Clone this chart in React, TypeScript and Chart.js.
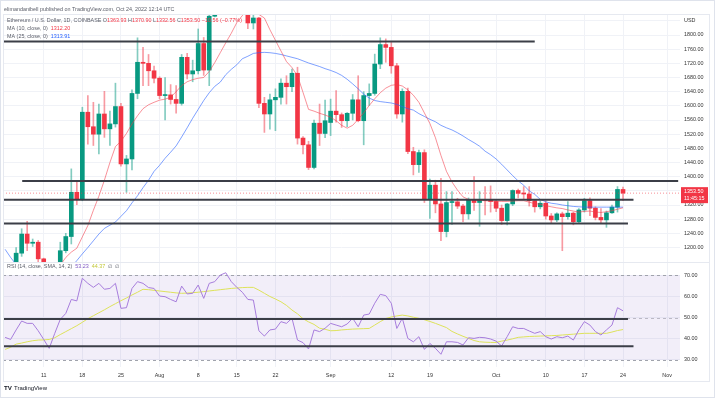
import React, { useEffect, useRef } from 'react';
import { Chart, registerables } from 'chart.js';

Chart.register(...registerables);

// Day index 0 = 11 Jul 2022; first candle = 4 Jul 2022 (day -7)
const FIRST_DAY = -7;

const OPEN = [
  1075, 1150, 1134, 1184, 1238, 1212, 1215, 1168, 1097, 1038,
  1112, 1191, 1231, 1356, 1337, 1582, 1541, 1520, 1577, 1535,
  1549, 1598, 1436, 1450, 1635, 1723, 1720, 1699, 1678, 1629,
  1631, 1618, 1607, 1737, 1690, 1699, 1776, 1701, 1853, 1880,
  1958, 1983, 1935, 1904, 1877, 1834, 1848, 1607, 1577, 1617,
  1624, 1664, 1654, 1692, 1509, 1490, 1426, 1551, 1522, 1553,
  1585, 1575, 1558, 1579, 1617, 1558, 1629, 1635, 1718, 1773,
  1765, 1713, 1577, 1641, 1471, 1434, 1468, 1336, 1376, 1323,
  1245, 1327, 1329, 1317, 1295, 1336, 1327, 1334, 1336, 1330,
  1311, 1276, 1323, 1361, 1353, 1351, 1332, 1315, 1325, 1289,
  1278, 1295, 1287, 1297, 1273, 1306, 1332, 1311, 1285, 1278,
  1298, 1314, 1363.93,
];
const HIGH = [
  1155, 1157, 1200, 1253, 1274, 1224, 1220, 1170, 1100, 1113,
  1215, 1240, 1422, 1384, 1596, 1629, 1610, 1605, 1641, 1585,
  1664, 1607, 1460, 1645, 1792, 1765, 1745, 1712, 1682, 1680,
  1660, 1657, 1745, 1748, 1729, 1817, 1793, 1870, 1942, 1960,
  2020, 2030, 2010, 1940, 1960, 1875, 1850, 1624, 1633, 1648,
  1676, 1685, 1704, 1709, 1513, 1500, 1560, 1605, 1616, 1619,
  1643, 1580, 1581, 1632, 1685, 1640, 1662, 1746, 1792, 1789,
  1779, 1720, 1648, 1650, 1483, 1475, 1476, 1393, 1390, 1395,
  1358, 1358, 1339, 1322, 1340, 1400, 1358, 1372, 1374, 1335,
  1320, 1325, 1363, 1365, 1372, 1372, 1335, 1331, 1331, 1296,
  1298, 1300, 1330, 1300, 1310, 1339, 1340, 1315, 1310, 1303,
  1320, 1372, 1370.9,
];
const LOW = [
  1070, 1100, 1102, 1175, 1191, 1203, 1160, 1090, 1035, 1006,
  1080, 1185, 1210, 1321, 1332, 1492, 1488, 1464, 1511, 1488,
  1540, 1430, 1356, 1419, 1620, 1657, 1657, 1665, 1620, 1560,
  1605, 1579, 1602, 1676, 1668, 1690, 1686, 1657, 1851, 1861,
  1945, 1920, 1870, 1861, 1818, 1817, 1595, 1525, 1534, 1530,
  1605, 1605, 1640, 1492, 1464, 1420, 1422, 1488, 1510, 1516,
  1554, 1539, 1541, 1560, 1555, 1490, 1601, 1630, 1705, 1723,
  1692, 1565, 1554, 1465, 1405, 1412, 1327, 1282, 1298, 1219,
  1230, 1265, 1310, 1273, 1280, 1305, 1260, 1292, 1300, 1301,
  1265, 1264, 1318, 1340, 1336, 1317, 1300, 1309, 1280, 1270,
  1273, 1191, 1280, 1264, 1270, 1300, 1290, 1278, 1270, 1257,
  1296, 1300, 1332.56,
];
const CLOSE = [
  1150, 1134, 1184, 1238, 1212, 1215, 1168, 1097, 1038, 1112,
  1191, 1231, 1356, 1337, 1582, 1541, 1520, 1577, 1535, 1549,
  1598, 1436, 1450, 1635, 1723, 1720, 1699, 1678, 1629, 1631,
  1618, 1607, 1737, 1690, 1699, 1776, 1701, 1853, 1880, 1958,
  1983, 1935, 1904, 1877, 1834, 1848, 1607, 1577, 1617, 1624,
  1664, 1654, 1692, 1509, 1490, 1426, 1551, 1522, 1558, 1585,
  1575, 1558, 1579, 1617, 1558, 1629, 1635, 1718, 1773, 1765,
  1713, 1577, 1641, 1471, 1434, 1468, 1336, 1376, 1323, 1245,
  1327, 1329, 1317, 1295, 1336, 1327, 1334, 1333, 1330, 1311,
  1276, 1323, 1361, 1353, 1351, 1332, 1315, 1325, 1289, 1278,
  1295, 1287, 1297, 1273, 1306, 1332, 1311, 1285, 1278, 1298,
  1314, 1364, 1353.5,
];

const MA10_FIRST_DAY = 2;
const MA10 = [
  1135, 1150, 1172, 1187, 1198, 1230, 1262, 1305, 1345, 1390,
  1440, 1485, 1500, 1522, 1549, 1572, 1592, 1603, 1610, 1616,
  1619, 1624, 1640, 1657, 1668, 1674, 1678, 1680, 1697, 1722,
  1750, 1778, 1805, 1835, 1855, 1870, 1868, 1858, 1848, 1815,
  1785, 1755, 1725, 1708, 1685, 1638, 1590, 1585, 1579, 1574,
  1568, 1558, 1545, 1537, 1545, 1562, 1580, 1601, 1620, 1637,
  1650, 1658, 1660, 1656, 1645, 1630, 1610, 1580, 1550, 1510,
  1460, 1415, 1385, 1362, 1343, 1336, 1334, 1333, 1332, 1331,
  1331, 1330, 1330, 1331, 1332, 1332, 1328, 1324, 1322, 1318,
  1315, 1312, 1310, 1306, 1303, 1300, 1302, 1303, 1300, 1299,
  1301, 1304, 1308, 1312.2,
];
const MA25 = [
  1195, 1172, 1152, 1140, 1132, 1126, 1120, 1117, 1115, 1116,
  1120, 1128, 1145, 1163, 1182, 1200, 1219, 1238, 1254, 1263,
  1272, 1288, 1304, 1326, 1346, 1369, 1390, 1415, 1432, 1452,
  1469, 1487, 1512, 1538, 1565, 1590, 1615, 1637, 1655, 1667,
  1688, 1703, 1716, 1733, 1740, 1748, 1750, 1751, 1750, 1748,
  1745, 1741, 1737, 1733, 1727, 1721, 1716, 1711, 1705, 1700,
  1694, 1686, 1675, 1662, 1648, 1633, 1622, 1615, 1612, 1610,
  1608, 1604, 1598, 1592, 1588, 1578, 1570, 1562, 1555, 1545,
  1538, 1532, 1524, 1515, 1505, 1496, 1486, 1472, 1462, 1450,
  1435, 1419, 1403, 1388, 1376, 1360, 1350, 1336, 1329, 1325,
  1323, 1320, 1318, 1316, 1315, 1314, 1314, 1314, 1314, 1314,
  1314, 1314, 1313.91,
];

const RSI = [
  40.7, 39.7, 44.2, 48.4, 47.3, 47.3, 43.8, 39.7, 35.5, 42.6,
  49.2, 52, 58.6, 57.9, 68.6, 66.2, 64.3, 66.2, 63.4, 63.8,
  66.2, 54.4, 54.7, 63.8, 67, 66.2, 64.2, 63.8, 60.2, 59.9,
  58.6, 57.5, 64.9, 61.2, 61.5, 65.4, 59.1, 66.2, 67, 70.1,
  71.2, 67, 64.3, 62, 58.6, 58.3, 43.8, 41.3, 44.2, 44.6,
  48.1, 47.3, 49.7, 39.4, 38.2, 35.2, 44.2, 43.4, 45, 47.3,
  46.5, 45.7, 47, 49.7, 45.7, 51.2, 51.7, 56.8, 61, 60.4,
  56.8, 44.9, 49.7, 40.2, 38.6, 41, 35, 37.8, 35.5, 32.7,
  38.6, 38.6, 38.3, 37.1, 40.5, 40.2, 40.7, 40.5, 39.9, 38.9,
  36.6, 41, 45.7, 44.9, 44.9, 43.7, 42.6, 43.4, 41, 39.9,
  41, 40.5, 41.3, 39.4, 44.2, 48.1, 46.5, 43.4, 41.8, 44.2,
  46.5, 54.7, 53.23,
];
const RSI_SMA = [
  35, 36, 37.5, 38, 38.6, 39.1, 39.4, 39.5, 39.7, 40.5,
  42, 43.4, 44.8, 46.2, 47.8, 49.5, 50.9, 52.3, 53.7, 55.2,
  56.6, 58, 59.3, 60.7, 62, 63.4, 63.2, 62.9, 62.6, 62.3,
  62, 61.7, 61.5, 61.6, 61.8, 62, 62.3, 62.6, 62.9, 63.2,
  63.5, 63.8, 64, 64.2, 64.3, 64.3, 63, 61.5, 60, 58.8,
  57.5, 55.8, 53.6, 51.8, 49.5, 48, 46.8, 45, 44.5, 43.8,
  43.9, 44.2, 44.4, 44.6, 44.7, 44.8, 44.9, 46.5, 48.1, 49.6,
  50.3, 50.8, 51.2, 50.8, 50.2, 49.7, 49, 48.2, 47.3, 46.3,
  45.3, 43.5, 42.3, 41.2, 40.2, 39.2, 38.6, 38.4, 38.3, 38.3,
  38.9, 39.4, 40, 40.7, 40.9, 41.1, 41.2, 41.3, 41.4, 41.5,
  41.6, 41.8, 42, 42.2, 42.4, 42.6, 42.6, 42.6, 42.6, 42.6,
  43.2, 43.9, 44.37,
];

// Hand-drawn horizontal levels
const PRICE_LEVELS = [1782, 1388, 1335, 1268];
const PRICE_LEVEL_FROM = [-7.4, -3.9, -7.4, -7.4];
const PRICE_LEVEL_TO = [89, 115, 106.9, 105.9];
const RSI_LEVELS = [49.4, 36.5];
const RSI_LEVEL_FROM = [-7.4, -7.4];
const RSI_LEVEL_TO = [105.9, 106.9];

const X_TICK_DAYS = [0, 7, 14, 21, 28, 35, 42, 52, 63, 70, 82, 91, 98, 105, 113];
const X_TICK_LABELS = ['11', '18', '25', 'Aug', '8', '15', '22', 'Sep', '12', '19', 'Oct', '10', '17', '24', 'Nov'];
const PRICE_TICKS = [1200, 1240, 1280, 1320, 1360, 1400, 1440, 1480, 1520, 1560, 1600, 1640, 1680, 1720, 1760, 1800, 1840];
const RSI_TICKS = [30, 40, 50, 60, 70];
const RSI_BAND = [30, 70];

const X_MIN = -7.38;
const X_MAX = 115.33;
const P_MIN = 1159.1;
const P_MAX = 1859.3;
const R_MIN = 26.69;
const R_MAX = 75.81;

const LAST_PRICE = CLOSE[CLOSE.length - 1];
const UP = '#089981';
const DOWN = '#f23645';
const GRID = '#f0f2f7';
const FONT = '"Liberation Sans", Arial, sans-serif';
const TXT = '#5a5d68';
const FS = 5.4;

type Run = [string, string];
function drawRuns(ctx: CanvasRenderingContext2D, x: number, y: number, runs: Run[], size: number, weight = '') {
  ctx.save();
  ctx.font = `${weight} ${size}px ${FONT}`;
  ctx.textBaseline = 'middle';
  ctx.textAlign = 'left';
  let cx = x;
  for (const [t, c] of runs) {
    ctx.fillStyle = c;
    ctx.fillText(t, cx, y);
    cx += ctx.measureText(t).width;
  }
  ctx.restore();
}

const days = OPEN.map((_, i) => FIRST_DAY + i);

function xScaleBase(showLabels: boolean) {
  return {
    type: 'linear' as const,
    min: X_MIN,
    max: X_MAX,
    offset: false,
    grid: { color: GRID, drawTicks: false, offset: false },
    border: { display: false },
    ticks: {
      display: showLabels,
      autoSkip: false,
      maxRotation: 0,
      padding: 5,
      color: '#333',
      font: { size: FS, family: FONT },
      callback: (_v: any, i: number) => X_TICK_LABELS[i],
    },
    afterBuildTicks: (s: any) => {
      s.ticks = X_TICK_DAYS.map((v) => ({ value: v }));
    },
    afterFit: (s: any) => {
      s.height = showLabels ? 14 : 0;
      s.paddingLeft = 0;
      s.paddingRight = 0;
    },
  };
}

export default function App() {
  const priceRef = useRef<HTMLCanvasElement>(null);
  const rsiRef = useRef<HTMLCanvasElement>(null);

  useEffect(() => {
    document.body.style.margin = '0';

    const bodyColors = days.map((_, i) => (CLOSE[i] >= OPEN[i] ? UP : DOWN));
    const wickColors = days.map((_, i) => (CLOSE[i] >= OPEN[i] ? 'rgba(8,153,129,0.5)' : 'rgba(242,54,69,0.5)'));

    const levelSets = PRICE_LEVELS.map((lv, i) => ({
      type: 'line' as const,
      data: [{ x: PRICE_LEVEL_FROM[i], y: lv }, { x: PRICE_LEVEL_TO[i], y: lv }],
      borderColor: '#3b3e47',
      borderWidth: 2,
      pointRadius: 0,
      order: 0,
    }));

    const pricePlugin = {
      id: 'priceDeco',
      afterDraw(chart: any) {
        const { ctx, chartArea: a, scales } = chart;
        drawRuns(ctx, 4, 9.3, [['elimandanibell published on TradingView.com, Oct 24, 2022 12:14 UTC', '#5d606b']], FS);
        const last = OPEN.length - 1;
        drawRuns(ctx, 7, 20.7, [
          ['Ethereum / U.S. Dollar, 1D, COINBASE ', TXT],
          ['O', TXT], [OPEN[last].toFixed(2), DOWN],
          [' H', TXT], [HIGH[last].toFixed(2), DOWN],
          [' L', TXT], [LOW[last].toFixed(2), DOWN],
          [' C', TXT], [CLOSE[last].toFixed(2), DOWN],
          [' \u221210.56 (\u22120.77%)', DOWN],
        ], FS);
        drawRuns(ctx, 7, 28.5, [['MA (10, close, 0)  ', TXT], [MA10[MA10.length - 1].toFixed(2), DOWN]], FS);
        drawRuns(ctx, 7, 36.2, [['MA (25, close, 0)  ', TXT], [MA25[MA25.length - 1].toFixed(2), '#2962ff']], FS);
        const y = scales.y.getPixelForValue(LAST_PRICE);
        const x0 = a.right + 1;
        ctx.save();
        ctx.fillStyle = DOWN;
        ctx.fillRect(x0, y - 6, 27, 16);
        ctx.restore();
        drawRuns(ctx, x0 + 3, y - 1.5, [[LAST_PRICE.toFixed(2), '#fff']], FS);
        drawRuns(ctx, x0 + 3, y + 5.5, [['11:45:15', '#fff']], FS);
      },
    };

    const priceChart = new Chart(priceRef.current as HTMLCanvasElement, {
      type: 'bar',
      data: {
        datasets: [
          ...levelSets,
          {
            type: 'line',
            data: [{ x: X_MIN, y: LAST_PRICE }, { x: X_MAX, y: LAST_PRICE }],
            borderColor: 'rgba(242,54,69,0.55)',
            borderWidth: 1,
            borderDash: [1, 2],
            pointRadius: 0,
            order: 1,
          },
          {
            type: 'line',
            data: MA10.map((v, i) => ({ x: MA10_FIRST_DAY + i, y: v })),
            borderColor: 'rgba(242,54,69,0.55)',
            borderWidth: 1,
            pointRadius: 0,
            order: 1,
          },
          {
            type: 'line',
            data: MA25.map((v, i) => ({ x: FIRST_DAY + i, y: v })),
            borderColor: 'rgba(41,98,255,0.6)',
            borderWidth: 1,
            pointRadius: 0,
            order: 1,
          },
          {
            type: 'bar',
            data: days.map((d, i) => ({ x: d, y: [OPEN[i], CLOSE[i]] })),
            backgroundColor: bodyColors,
            barThickness: 4,
            minBarLength: 1,
            grouped: false,
            order: 2,
          },
          {
            type: 'bar',
            data: days.map((d, i) => ({ x: d, y: [LOW[i], HIGH[i]] })),
            backgroundColor: wickColors,
            barThickness: 1,
            grouped: false,
            order: 3,
          },
        ] as any,
      },
      options: {
        animation: false,
        responsive: false,
        maintainAspectRatio: false,
        events: [],
        layout: { padding: { left: 3, right: 0, top: 14, bottom: 0 } },
        plugins: { legend: { display: false }, tooltip: { enabled: false } },
        scales: {
          x: xScaleBase(false) as any,
          y: {
            position: 'right',
            min: P_MIN,
            max: P_MAX,
            grid: { color: GRID, drawTicks: false },
            border: { display: false },
            ticks: {
              padding: 4,
              color: '#333',
              font: { size: FS, family: FONT },
              callback: (v: any) => {
                if (v === PRICE_TICKS[PRICE_TICKS.length - 1]) return 'USD';
                if (Math.abs(v - LAST_PRICE) < 25) return '';
                return Number(v).toFixed(2);
              },
            },
            afterBuildTicks: (s: any) => {
              s.ticks = PRICE_TICKS.map((v) => ({ value: v }));
            },
            afterFit: (s: any) => {
              s.width = 35;
              s.paddingTop = 0;
              s.paddingBottom = 0;
            },
          } as any,
        },
      },
      plugins: [pricePlugin],
    });

    const rsiPlugin = {
      id: 'rsiDeco',
      beforeDatasetsDraw(chart: any) {
        const { ctx, chartArea: a, scales } = chart;
        const yTop = scales.y.getPixelForValue(RSI_BAND[1]);
        const yBot = scales.y.getPixelForValue(RSI_BAND[0]);
        ctx.save();
        ctx.fillStyle = 'rgba(126,87,194,0.1)';
        ctx.fillRect(a.left, yTop, a.right - a.left, yBot - yTop);
        ctx.setLineDash([3, 3]);
        ctx.lineWidth = 1;
        ctx.strokeStyle = '#a0a3ac';
        for (const v of [RSI_BAND[1], RSI_BAND[0]]) {
          const yy = Math.round(scales.y.getPixelForValue(v)) + 0.5;
          ctx.beginPath(); ctx.moveTo(a.left, yy); ctx.lineTo(a.right, yy); ctx.stroke();
        }
        ctx.strokeStyle = 'rgba(120,123,134,0.45)';
        const y50 = Math.round(scales.y.getPixelForValue(50)) + 0.5;
        ctx.beginPath(); ctx.moveTo(a.left, y50); ctx.lineTo(a.right, y50); ctx.stroke();
        ctx.restore();
      },
      afterDraw(chart: any) {
        const { ctx } = chart;
        drawRuns(ctx, 7, 4.7, [
          ['RSI (14, close, SMA, 14, 2)  ', TXT],
          [RSI[RSI.length - 1].toFixed(2), '#7e57c2'],
          ['  ' + RSI_SMA[RSI_SMA.length - 1].toFixed(2), '#c3c83a'],
          ['  \u2205  \u2205', TXT],
        ], FS);
        drawRuns(ctx, 4, 126.5, [['TV', '#131722']], 6.2, 'bold');
        drawRuns(ctx, 14, 126.5, [['TradingView', '#131722']], 6);
      },
    };

    const rsiChart = new Chart(rsiRef.current as HTMLCanvasElement, {
      type: 'line',
      data: {
        datasets: [
          ...RSI_LEVELS.map((lv, i) => ({
            data: [{ x: RSI_LEVEL_FROM[i], y: lv }, { x: RSI_LEVEL_TO[i], y: lv }],
            borderColor: '#3b3e47',
            borderWidth: 2,
            pointRadius: 0,
            order: 0,
          })),
          {
            data: RSI.map((v, i) => ({ x: FIRST_DAY + i, y: v })),
            borderColor: '#a77ddc',
            borderWidth: 1,
            pointRadius: 0,
            order: 1,
          },
          {
            data: RSI_SMA.map((v, i) => ({ x: FIRST_DAY + i, y: v })),
            borderColor: '#dde25a',
            borderWidth: 1,
            pointRadius: 0,
            order: 2,
          },
        ] as any,
      },
      options: {
        animation: false,
        responsive: false,
        maintainAspectRatio: false,
        events: [],
        layout: { padding: { left: 3, right: 0, top: 1, bottom: 18 } },
        plugins: { legend: { display: false }, tooltip: { enabled: false } },
        scales: {
          x: xScaleBase(true) as any,
          y: {
            position: 'right',
            min: R_MIN,
            max: R_MAX,
            grid: { color: GRID, drawTicks: false },
            border: { display: false },
            ticks: {
              padding: 4,
              color: '#333',
              font: { size: FS, family: FONT },
              callback: (v: any) => Number(v).toFixed(2),
            },
            afterBuildTicks: (s: any) => {
              s.ticks = RSI_TICKS.map((v) => ({ value: v }));
            },
            afterFit: (s: any) => {
              s.width = 35;
              s.paddingTop = 0;
              s.paddingBottom = 0;
            },
          } as any,
        },
      },
      plugins: [rsiPlugin],
    });

    return () => {
      priceChart.destroy();
      rsiChart.destroy();
    };
  }, []);

  return (
    <div style={{ position: 'relative', width: 715, height: 399, background: '#fff', overflow: 'hidden' }}>
      <canvas ref={priceRef} width={715} height={262} style={{ position: 'absolute', left: 0, top: 0, display: 'block' }} />
      <canvas ref={rsiRef} width={715} height={137} style={{ position: 'absolute', left: 0, top: 262, display: 'block' }} />
      <div style={{ position: 'absolute', left: 0, top: 0, width: 715, height: 398, border: '1px solid #dfe3ec', boxSizing: 'border-box', pointerEvents: 'none' }} />
      <div style={{ position: 'absolute', left: 3, top: 14, width: 707, height: 368, border: '1px solid #e6e9f0', boxSizing: 'border-box', pointerEvents: 'none' }} />
      <div style={{ position: 'absolute', left: 3, top: 262, width: 707, height: 1, background: '#e6e9f0', pointerEvents: 'none' }} />
    </div>
  );
}
